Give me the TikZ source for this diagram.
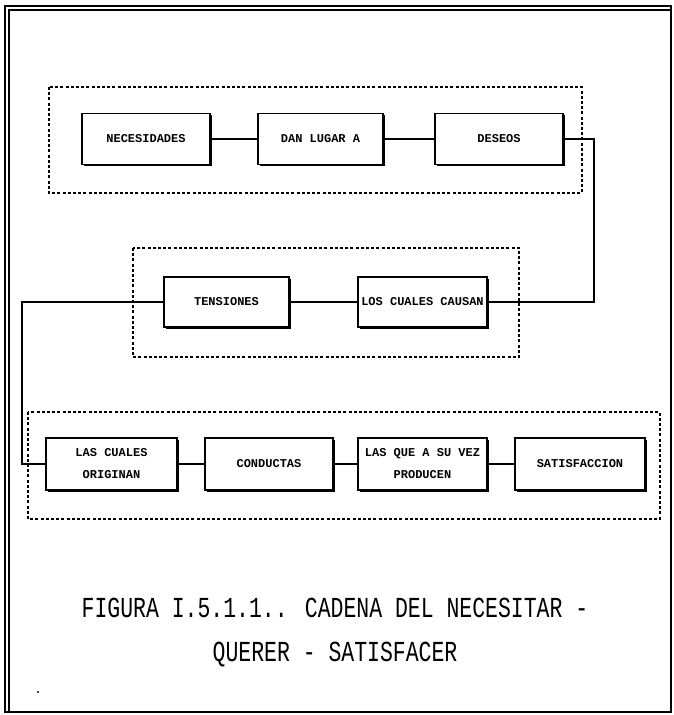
\documentclass[tikz,border=0pt]{standalone}
\usepackage{fontspec}
\newfontfamily\boxfont{Liberation Mono}
\newfontfamily\capfont{Liberation Mono}
\usetikzlibrary{shadows}
\tikzset{
  blk/.style={draw, line width=1.5pt, fill=white, inner sep=0pt, minimum height=51pt,
    align=center, font=\boxfont\bfseries\fontsize{12}{22}\selectfont,
    drop shadow={shadow xshift=1.5pt, shadow yshift=-1.5pt, fill=black, opacity=1}},
  grp/.style={draw, line width=1.1pt, dash pattern=on 3pt off 2.2pt},
  link/.style={draw, line width=1.3pt},
  frame/.style={draw, line width=1.1pt},
  captxt/.style={font=\capfont\fontsize{29}{30}\selectfont, inner sep=0pt}
}
\begin{document}
\begin{tikzpicture}[x=1pt,y=-1pt]
\useasboundingbox (0,0) rectangle (673,715);
% frame
\draw[frame] (5,6) rectangle (671,712);
\draw[frame] (9,712) -- (9,10) -- (671,10);
% groups
\draw[grp] (49,87) rectangle (582,193);
\draw[grp] (133,248) rectangle (519,357);
\draw[grp] (28,412) rectangle (660,519);
% row 1
\node[blk, minimum width=128pt] (nec) at (146,139) {NECESIDADES};
\node[blk, minimum width=125pt] (dan) at (320.5,139) {DAN LUGAR A};
\node[blk, minimum width=128pt] (des) at (499,139) {DESEOS};
% row 2
\node[blk, minimum width=125pt, minimum height=50pt] (ten) at (226.5,302) {TENSIONES};
\node[blk, minimum width=129pt, minimum height=50pt] (lcc) at (422.5,302) {LOS CUALES CAUSAN};
% row 3
\node[blk, minimum width=131pt, minimum height=52pt] (ori) at (111.5,464) {LAS CUALES\\ORIGINAN};
\node[blk, minimum width=128pt, minimum height=52pt] (con) at (269,464) {CONDUCTAS};
\node[blk, minimum width=129pt, minimum height=52pt] (lqv) at (422.5,464) {LAS QUE A SU VEZ\\PRODUCEN};
\node[blk, minimum width=130pt, minimum height=52pt] (sat) at (580,464) {SATISFACCION};
% turn points
\coordinate (rt) at (594,0);
\coordinate (lt) at (22,0);
% connectors
\draw[link] (nec.east) -- (dan.west);
\draw[link] (dan.east) -- (des.west);
\draw[link] (des.east) -| (rt |- lcc.east) -- (lcc.east);
\draw[link] (lcc.west) -- (ten.east);
\draw[link] (ten.west) -| (lt |- ori.west) -- (ori.west);
\draw[link] (ori.east) -- (con.west);
\draw[link] (con.east) -- (lqv.west);
\draw[link] (lqv.east) -- (sat.west);
% caption
\node[captxt] (c1) at (335,608) {\scalebox{0.74}[1]{FIGURA I.5.1.1.. CADENA DEL NECESITAR -}};
\node[captxt] (c2) at (335,655) {\scalebox{0.74}[1]{QUERER - SATISFACER}};
\fill (38,692) circle (1.2pt);
\end{tikzpicture}
\end{document}
